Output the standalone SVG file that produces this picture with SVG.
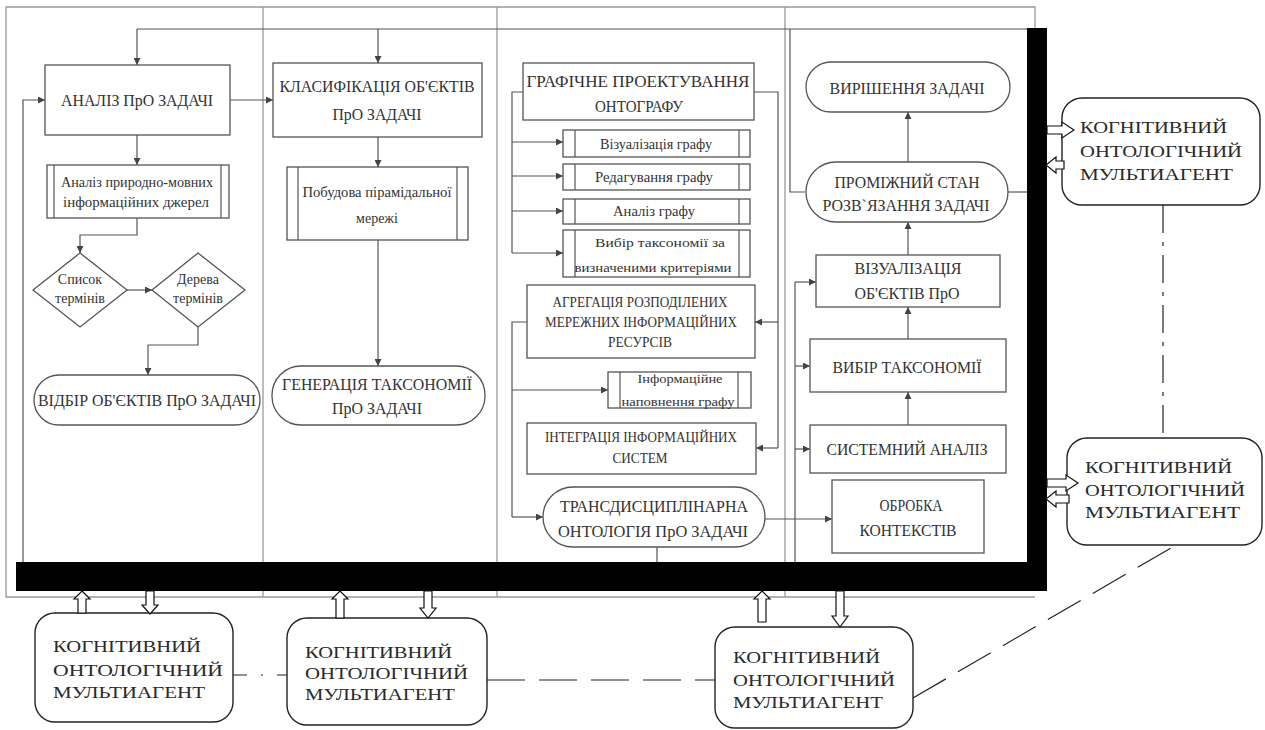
<svg xmlns="http://www.w3.org/2000/svg" width="1265" height="730" viewBox="0 0 1265 730" font-family="'Liberation Serif', 'Times New Roman', 'DejaVu Serif', serif">
<defs>
<marker id="ah" viewBox="0 0 10 10" refX="10" refY="5" markerWidth="7" markerHeight="7" markerUnits="userSpaceOnUse" orient="auto"><path d="M0,0 L10,5 L0,10 z" fill="#444"/></marker>
<style>
.frame{fill:none;stroke:#999;stroke-width:1.3}
.c{fill:none;stroke:#555;stroke-width:1.2}
.ca{fill:none;stroke:#555;stroke-width:1.2;marker-end:url(#ah)}
.n{fill:#fff;stroke:#555;stroke-width:1.3}
.nl{fill:none;stroke:#555;stroke-width:1.2}
.t{fill:#333;text-anchor:middle}
.f17{font-size:17px}
.f16{font-size:16px}
.f14{font-size:14px}
.f13{font-size:13px}
.ag{fill:#fff;stroke:#222;stroke-width:1.4}
.at{font-size:17px;fill:#2a2a2a}
.ba{fill:#fff;stroke:#111;stroke-width:1.2}
.bar{fill:#000}
.d1{fill:none;stroke:#222;stroke-width:1.2;stroke-dasharray:28 9 4 9}
.d2{fill:none;stroke:#222;stroke-width:1.2;stroke-dasharray:14 14 2 14}
.d3{fill:none;stroke:#222;stroke-width:1.2;stroke-dasharray:38 14}
</style>
</defs>
<rect width="1265" height="730" fill="#fff"/>

<g id="frame">
<path class="frame" d="M1035,28 L1035,7 L6,7 L6,597 L1035,597"/>
<line class="frame" x1="263" y1="7" x2="263" y2="597"/>
<line class="frame" x1="497" y1="7" x2="497" y2="597"/>
<line class="frame" x1="785" y1="7" x2="785" y2="597"/>
</g>

<g id="connectors">
<path class="c" d="M1027,29 L137,29"/>
<path class="ca" d="M137,29 L137,65"/>
<path class="ca" d="M378,29 L378,63"/>
<path class="c" d="M805,192 L790,192 L790,29"/>
<path class="ca" d="M23,562 L23,100 L45,100"/>
<path class="ca" d="M230,100 L273,100"/>
<path class="ca" d="M137,135 L137,165"/>
<path class="ca" d="M137,218 L137,235 L80,235 L80,253"/>
<path class="ca" d="M127,290 L152,290"/>
<path class="ca" d="M198,327 L198,345 L148,345 L148,375"/>
<path class="ca" d="M378,137 L378,167"/>
<path class="ca" d="M378,240 L378,366"/>
<path class="c" d="M523,92 L512,92 L512,253"/>
<path class="ca" d="M512,142 L563,142"/>
<path class="ca" d="M512,176 L563,176"/>
<path class="ca" d="M512,211 L563,211"/>
<path class="ca" d="M512,253 L563,253"/>
<path class="c" d="M754,92 L778,92 L778,448"/>
<path class="ca" d="M778,322 L755,322"/>
<path class="ca" d="M778,448 L756,448"/>
<path class="c" d="M527,322 L512,322 L512,517"/>
<path class="ca" d="M512,517 L543,517"/>
<path class="ca" d="M512,390 L608,390"/>
<path class="c" d="M657,547 L657,562"/>
<path class="ca" d="M765,519 L832,519"/>
<path class="c" d="M795,282 L795,562"/>
<path class="ca" d="M795,282 L816,282"/>
<path class="ca" d="M795,366 L810,366"/>
<path class="ca" d="M795,449 L810,449"/>
<path class="ca" d="M908,425 L908,392"/>
<path class="ca" d="M908,339 L908,307"/>
<path class="ca" d="M908,255 L908,222"/>
<path class="ca" d="M908,162 L908,112"/>
<path class="c" d="M1008,192 L1027,192"/>
</g>

<g id="bars">
<rect class="bar" x="1027" y="28" width="20" height="563"/>
<rect class="bar" x="16" y="562" width="1031" height="29"/>
</g>

<g id="analiz">
<rect class="n" x="45" y="65" width="185" height="70"/>
<text class="t f17" x="137" y="106" textLength="152" lengthAdjust="spacingAndGlyphs">АНАЛІЗ ПрО ЗАДАЧІ</text>
</g>
<g id="analiz-dzherel">
<rect class="n" x="47" y="165" width="182" height="53"/>
<line class="nl" x1="54" y1="165" x2="54" y2="218"/><line class="nl" x1="221" y1="165" x2="221" y2="218"/>
<text class="t f14" x="137" y="187" textLength="152" lengthAdjust="spacingAndGlyphs">Аналіз природно-мовних</text>
<text class="t f14" x="136" y="207" textLength="146" lengthAdjust="spacingAndGlyphs">інформаційних джерел</text>
</g>
<g id="spysok">
<path class="n" d="M80,253 L127,290 L80,327 L33,290 Z"/>
<text class="t f14" x="80" y="284">Список</text>
<text class="t f14" x="80" y="303">термінів</text>
</g>
<g id="dereva">
<path class="n" d="M198,253 L245,290 L198,327 L152,290 Z"/>
<text class="t f14" x="198" y="284">Дерева</text>
<text class="t f14" x="198" y="303">термінів</text>
</g>
<g id="vidbir">
<rect class="n" x="34" y="375" width="226" height="50" rx="25"/>
<text class="t f17" x="147" y="406" textLength="218" lengthAdjust="spacingAndGlyphs">ВІДБІР ОБ'ЄКТІВ ПрО ЗАДАЧІ</text>
</g>

<g id="klasyfikatsiia">
<rect class="n" x="273" y="63" width="209" height="74"/>
<text class="t f17" x="377" y="92" textLength="195" lengthAdjust="spacingAndGlyphs">КЛАСИФІКАЦІЯ ОБ'ЄКТІВ</text>
<text class="t f17" x="377" y="120" textLength="89" lengthAdjust="spacingAndGlyphs">ПрО ЗАДАЧІ</text>
</g>
<g id="pobudova">
<rect class="n" x="287" y="167" width="181" height="73"/>
<line class="nl" x1="298" y1="167" x2="298" y2="240"/><line class="nl" x1="457" y1="167" x2="457" y2="240"/>
<text class="t f14" x="377" y="197" textLength="149" lengthAdjust="spacingAndGlyphs">Побудова пірамідальної</text>
<text class="t f14" x="377" y="223">мережі</text>
</g>
<g id="heneratsiia">
<rect class="n" x="272" y="366" width="213" height="59" rx="29"/>
<text class="t f17" x="377" y="390" textLength="190" lengthAdjust="spacingAndGlyphs">ГЕНЕРАЦІЯ ТАКСОНОМІЇ</text>
<text class="t f17" x="377" y="414" textLength="90" lengthAdjust="spacingAndGlyphs">ПрО ЗАДАЧІ</text>
</g>

<g id="hrafichne">
<rect class="n" x="523" y="63" width="231" height="57"/>
<text class="t f17" x="638" y="87" textLength="223" lengthAdjust="spacingAndGlyphs">ГРАФІЧНЕ ПРОЕКТУВАННЯ</text>
<text class="t f17" x="639" y="112" textLength="88" lengthAdjust="spacingAndGlyphs">ОНТОГРАФУ</text>
</g>
<g id="vizualizatsiia-hrafu">
<rect class="n" x="563" y="130" width="187" height="27"/>
<line class="nl" x1="575" y1="130" x2="575" y2="157"/><line class="nl" x1="739" y1="130" x2="739" y2="157"/>
<text class="t f14" x="656" y="149" textLength="112" lengthAdjust="spacingAndGlyphs">Візуалізація графу</text>
</g>
<g id="redahuvannia">
<rect class="n" x="563" y="164" width="187" height="26"/>
<line class="nl" x1="575" y1="164" x2="575" y2="190"/><line class="nl" x1="739" y1="164" x2="739" y2="190"/>
<text class="t f14" x="654" y="182" textLength="118" lengthAdjust="spacingAndGlyphs">Редагування графу</text>
</g>
<g id="analiz-hrafu">
<rect class="n" x="563" y="199" width="187" height="25"/>
<line class="nl" x1="575" y1="199" x2="575" y2="224"/><line class="nl" x1="739" y1="199" x2="739" y2="224"/>
<text class="t f14" x="654" y="216" textLength="82" lengthAdjust="spacingAndGlyphs">Аналіз графу</text>
</g>
<g id="vybir-kryterii">
<rect class="n" x="563" y="230" width="187" height="47"/>
<line class="nl" x1="575" y1="230" x2="575" y2="277"/><line class="nl" x1="739" y1="230" x2="739" y2="277"/>
<text class="t f13" x="660" y="247" textLength="130" lengthAdjust="spacingAndGlyphs">Вибір таксономії за</text>
<text class="t f13" x="653" y="272" textLength="157" lengthAdjust="spacingAndGlyphs">визначеними критеріями</text>
</g>
<g id="ahrehatsiia">
<rect class="n" x="527" y="285" width="228" height="73"/>
<text class="t f14" x="640" y="307" textLength="175" lengthAdjust="spacingAndGlyphs">АГРЕГАЦІЯ РОЗПОДІЛЕНИХ</text>
<text class="t f14" x="641" y="327" textLength="192" lengthAdjust="spacingAndGlyphs">МЕРЕЖНИХ ІНФОРМАЦІЙНИХ</text>
<text class="t f14" x="640" y="347" textLength="64" lengthAdjust="spacingAndGlyphs">РЕСУРСІВ</text>
</g>
<g id="napovnennia">
<rect class="n" x="608" y="372" width="143" height="36"/>
<line class="nl" x1="620" y1="372" x2="620" y2="408"/><line class="nl" x1="738" y1="372" x2="738" y2="408"/>
<text class="t f13" x="680" y="383" textLength="85" lengthAdjust="spacingAndGlyphs">Інформаційне</text>
<text class="t f13" x="678" y="406" textLength="113" lengthAdjust="spacingAndGlyphs">наповнення графу</text>
</g>
<g id="intehratsiia">
<rect class="n" x="527" y="423" width="229" height="51"/>
<text class="t f14" x="641" y="442" textLength="192" lengthAdjust="spacingAndGlyphs">ІНТЕГРАЦІЯ ІНФОРМАЦІЙНИХ</text>
<text class="t f14" x="640" y="463" textLength="55" lengthAdjust="spacingAndGlyphs">СИСТЕМ</text>
</g>
<g id="transdystsyplinarna">
<rect class="n" x="543" y="487" width="222" height="60" rx="30"/>
<text class="t f17" x="654" y="512" textLength="188" lengthAdjust="spacingAndGlyphs">ТРАНСДИСЦИПЛІНАРНА</text>
<text class="t f17" x="653" y="537" textLength="190" lengthAdjust="spacingAndGlyphs">ОНТОЛОГІЯ ПрО ЗАДАЧІ</text>
</g>

<g id="vyrishennia">
<rect class="n" x="806" y="62" width="204" height="50" rx="25"/>
<text class="t f16" x="907" y="94" textLength="155" lengthAdjust="spacingAndGlyphs">ВИРІШЕННЯ ЗАДАЧІ</text>
</g>
<g id="promizhnyi">
<rect class="n" x="806" y="162" width="202" height="60" rx="30"/>
<text class="t f16" x="907" y="188" textLength="145" lengthAdjust="spacingAndGlyphs">ПРОМІЖНИЙ СТАН</text>
<text class="t f16" x="906" y="211" textLength="167" lengthAdjust="spacingAndGlyphs">РОЗВ`ЯЗАННЯ ЗАДАЧІ</text>
</g>
<g id="vizualizatsiia-obiektiv">
<rect class="n" x="816" y="255" width="184" height="52"/>
<text class="t f16" x="908" y="274" textLength="107" lengthAdjust="spacingAndGlyphs">ВІЗУАЛІЗАЦІЯ</text>
<text class="t f16" x="907" y="299" textLength="105" lengthAdjust="spacingAndGlyphs">ОБ'ЄКТІВ ПрО</text>
</g>
<g id="vybir-taksonomii">
<rect class="n" x="810" y="339" width="196" height="53"/>
<text class="t f16" x="907" y="373" textLength="149" lengthAdjust="spacingAndGlyphs">ВИБІР ТАКСОНОМІЇ</text>
</g>
<g id="systemnyi">
<rect class="n" x="810" y="425" width="196" height="48"/>
<text class="t f16" x="907" y="455" textLength="161" lengthAdjust="spacingAndGlyphs">СИСТЕМНИЙ АНАЛІЗ</text>
</g>
<g id="obrobka">
<rect class="n" x="832" y="480" width="152" height="73"/>
<text class="t f16" x="911" y="511" textLength="63" lengthAdjust="spacingAndGlyphs">ОБРОБКА</text>
<text class="t f16" x="908" y="536" textLength="97" lengthAdjust="spacingAndGlyphs">КОНТЕКСТІВ</text>
</g>

<g id="agent-links">
<line class="d1" x1="1163" y1="205" x2="1163" y2="438"/>
<line class="d2" x1="233" y1="675" x2="287" y2="675"/>
<line class="d3" x1="487" y1="680" x2="715" y2="680"/>
<line class="d3" x1="913" y1="698" x2="1176" y2="545"/>
</g>

<g id="agent-r1">
<rect class="ag" x="1062" y="98" width="198" height="107" rx="20"/>
<text class="at" x="1080" y="133" textLength="147" lengthAdjust="spacingAndGlyphs">КОГНІТИВНИЙ</text>
<text class="at" x="1080" y="157" textLength="162" lengthAdjust="spacingAndGlyphs">ОНТОЛОГІЧНИЙ</text>
<text class="at" x="1080" y="180" textLength="153" lengthAdjust="spacingAndGlyphs">МУЛЬТИАГЕНТ</text>
<path class="ba" d="M1047,126 L1062,126 L1062,122 L1074,130 L1062,138 L1062,134 L1047,134 Z"/>
<path class="ba" d="M1064,161 L1056,161 L1056,157 L1046,165 L1056,173 L1056,169 L1064,169 Z"/>
</g>
<g id="agent-r2">
<rect class="ag" x="1067" y="438" width="195" height="107" rx="20"/>
<text class="at" x="1085" y="473" textLength="147" lengthAdjust="spacingAndGlyphs">КОГНІТИВНИЙ</text>
<text class="at" x="1085" y="496" textLength="160" lengthAdjust="spacingAndGlyphs">ОНТОЛОГІЧНИЙ</text>
<text class="at" x="1085" y="518" textLength="155" lengthAdjust="spacingAndGlyphs">МУЛЬТИАГЕНТ</text>
<path class="ba" d="M1047,479 L1066,479 L1066,475 L1078,483 L1066,491 L1066,487 L1047,487 Z"/>
<path class="ba" d="M1069,495 L1056,495 L1056,491 L1046,499 L1056,507 L1056,503 L1069,503 Z"/>
</g>
<g id="agent-b1">
<rect class="ag" x="35" y="613" width="198" height="109" rx="20"/>
<text class="at" x="53" y="652" textLength="148" lengthAdjust="spacingAndGlyphs">КОГНІТИВНИЙ</text>
<text class="at" x="53" y="676" textLength="170" lengthAdjust="spacingAndGlyphs">ОНТОЛОГІЧНИЙ</text>
<text class="at" x="53" y="698" textLength="152" lengthAdjust="spacingAndGlyphs">МУЛЬТИАГЕНТ</text>
<path class="ba" d="M82,591 L90,599 L86,599 L86,613 L78,613 L78,599 L74,599 Z"/>
<path class="ba" d="M146,591 L154,591 L154,605 L158,605 L150,614 L142,605 L146,605 Z"/>
</g>
<g id="agent-b2">
<rect class="ag" x="287" y="618" width="200" height="107" rx="20"/>
<text class="at" x="305" y="658" textLength="147" lengthAdjust="spacingAndGlyphs">КОГНІТИВНИЙ</text>
<text class="at" x="305" y="679" textLength="163" lengthAdjust="spacingAndGlyphs">ОНТОЛОГІЧНИЙ</text>
<text class="at" x="305" y="700" textLength="150" lengthAdjust="spacingAndGlyphs">МУЛЬТИАГЕНТ</text>
<path class="ba" d="M340,591 L348,599 L344,599 L344,618 L336,618 L336,599 L332,599 Z"/>
<path class="ba" d="M424,591 L432,591 L432,608 L436,608 L428,618 L420,608 L424,608 Z"/>
</g>
<g id="agent-b3">
<rect class="ag" x="715" y="627" width="198" height="101" rx="20"/>
<text class="at" x="733" y="663" textLength="147" lengthAdjust="spacingAndGlyphs">КОГНІТИВНИЙ</text>
<text class="at" x="733" y="686" textLength="162" lengthAdjust="spacingAndGlyphs">ОНТОЛОГІЧНИЙ</text>
<text class="at" x="733" y="708" textLength="150" lengthAdjust="spacingAndGlyphs">МУЛЬТИАГЕНТ</text>
<path class="ba" d="M762,591 L770,599 L766,599 L766,622 L758,622 L758,599 L754,599 Z"/>
<path class="ba" d="M836,591 L844,591 L844,616 L848,616 L840,627 L832,616 L836,616 Z"/>
</g>
</svg>
